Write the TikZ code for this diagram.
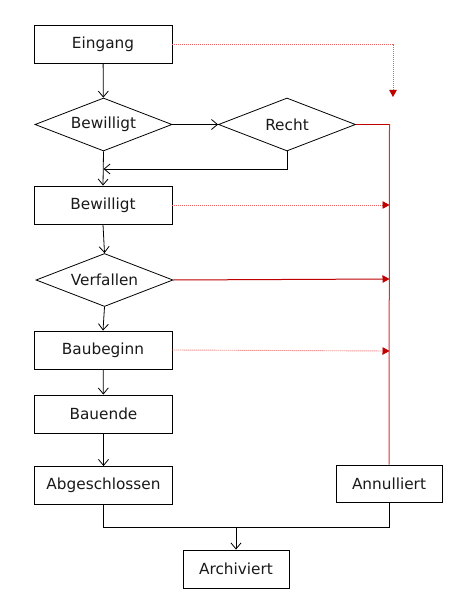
\documentclass[tikz,border=0pt]{standalone}
\usepackage{fontspec}
\setmainfont{DejaVu Sans}
\usetikzlibrary{shapes.geometric,arrows.meta}
\definecolor{rsolid}{HTML}{C00000}
\definecolor{rline}{HTML}{D83030}
\definecolor{rdot}{HTML}{E86060}
\begin{document}
\begin{tikzpicture}[x=1pt,y=-1pt,
  lbl/.style={font=\fontsize{15.3}{17}\selectfont, text=black!90},
  box/.style={draw, line width=0.9pt, minimum width=138pt, minimum height=38pt, inner sep=0pt, lbl},
  smallbox/.style={box, minimum width=106pt},
  dia/.style={draw, diamond, line width=0.8pt, aspect=2.6, minimum width=137pt, minimum height=53pt, inner sep=0pt, lbl},
  arr/.style={line width=0.8pt, -{Straight Barb[length=6pt,width=10pt]}},
  ln/.style={line width=0.8pt},
  redsolid/.style={draw=rsolid, line width=1pt},
  reddot/.style={draw=rdot, line width=0.9pt, dash pattern=on 1pt off 1pt},
  redtip/.style={-{Triangle[length=7pt,width=7.5pt,fill=rsolid,color=rsolid]}}
]
\useasboundingbox (0,0) rectangle (457,601);
\node[box] (E) at (103,44) {Eingang};
\node[dia] (B1) at (103.5,124.5) {Bewilligt};
\node[dia] (R) at (287,124.5) {Recht};
\node[box] (B2) at (103,205) {Bewilligt};
\node[dia] (V) at (104.5,280) {Verfallen};
\node[box] (BB) at (103,350) {Baubeginn};
\node[box] (BE) at (103.5,414) {Bauende};
\node[box] (A) at (103.5,485.5) {Abgeschlossen};
\node[smallbox, minimum height=37pt] (AN) at (389,483.5) {Annulliert};
\node[smallbox] (AR) at (236,569) {Archiviert};
\coordinate (j1) at (103.5,169);
\coordinate (j2) at (236,527);
\coordinate (t1) at (393,97);
\coordinate (rc) at (389.5,124.5);
\coordinate (r1) at (389.5,205);
\coordinate (r2) at (389.5,279);
\coordinate (r3) at (389.5,351);
% black flow
\draw[arr] (E) -- (B1);
\draw[arr] (B1) -- (R);
\draw[arr] (R.south) |- (j1);
\draw[arr] (B1.south) -- (B2.north);
\draw[arr] (B2.south) -- (V.north);
\draw[arr] (V.south) -- (BB.north);
\draw[arr] (BB) -- (BE);
\draw[arr] (BE) -- (A);
\draw[ln] (A.south) |- (j2);
\draw[ln] (AN.south) |- (j2);
\draw[arr] (j2) -- (AR);
% red
\draw[redsolid] (R.east) -- (rc);
\draw[draw=rline, line width=1pt] (rc) -- (AN.north);
\draw[reddot, redtip] (E.east) -| (t1);
\draw[reddot, redtip] (B2.east) -- (r1);
\draw[redsolid, redtip] (V.east) -- (r2);
\draw[reddot, redtip] (BB.east) -- (r3);
\end{tikzpicture}
\end{document}
